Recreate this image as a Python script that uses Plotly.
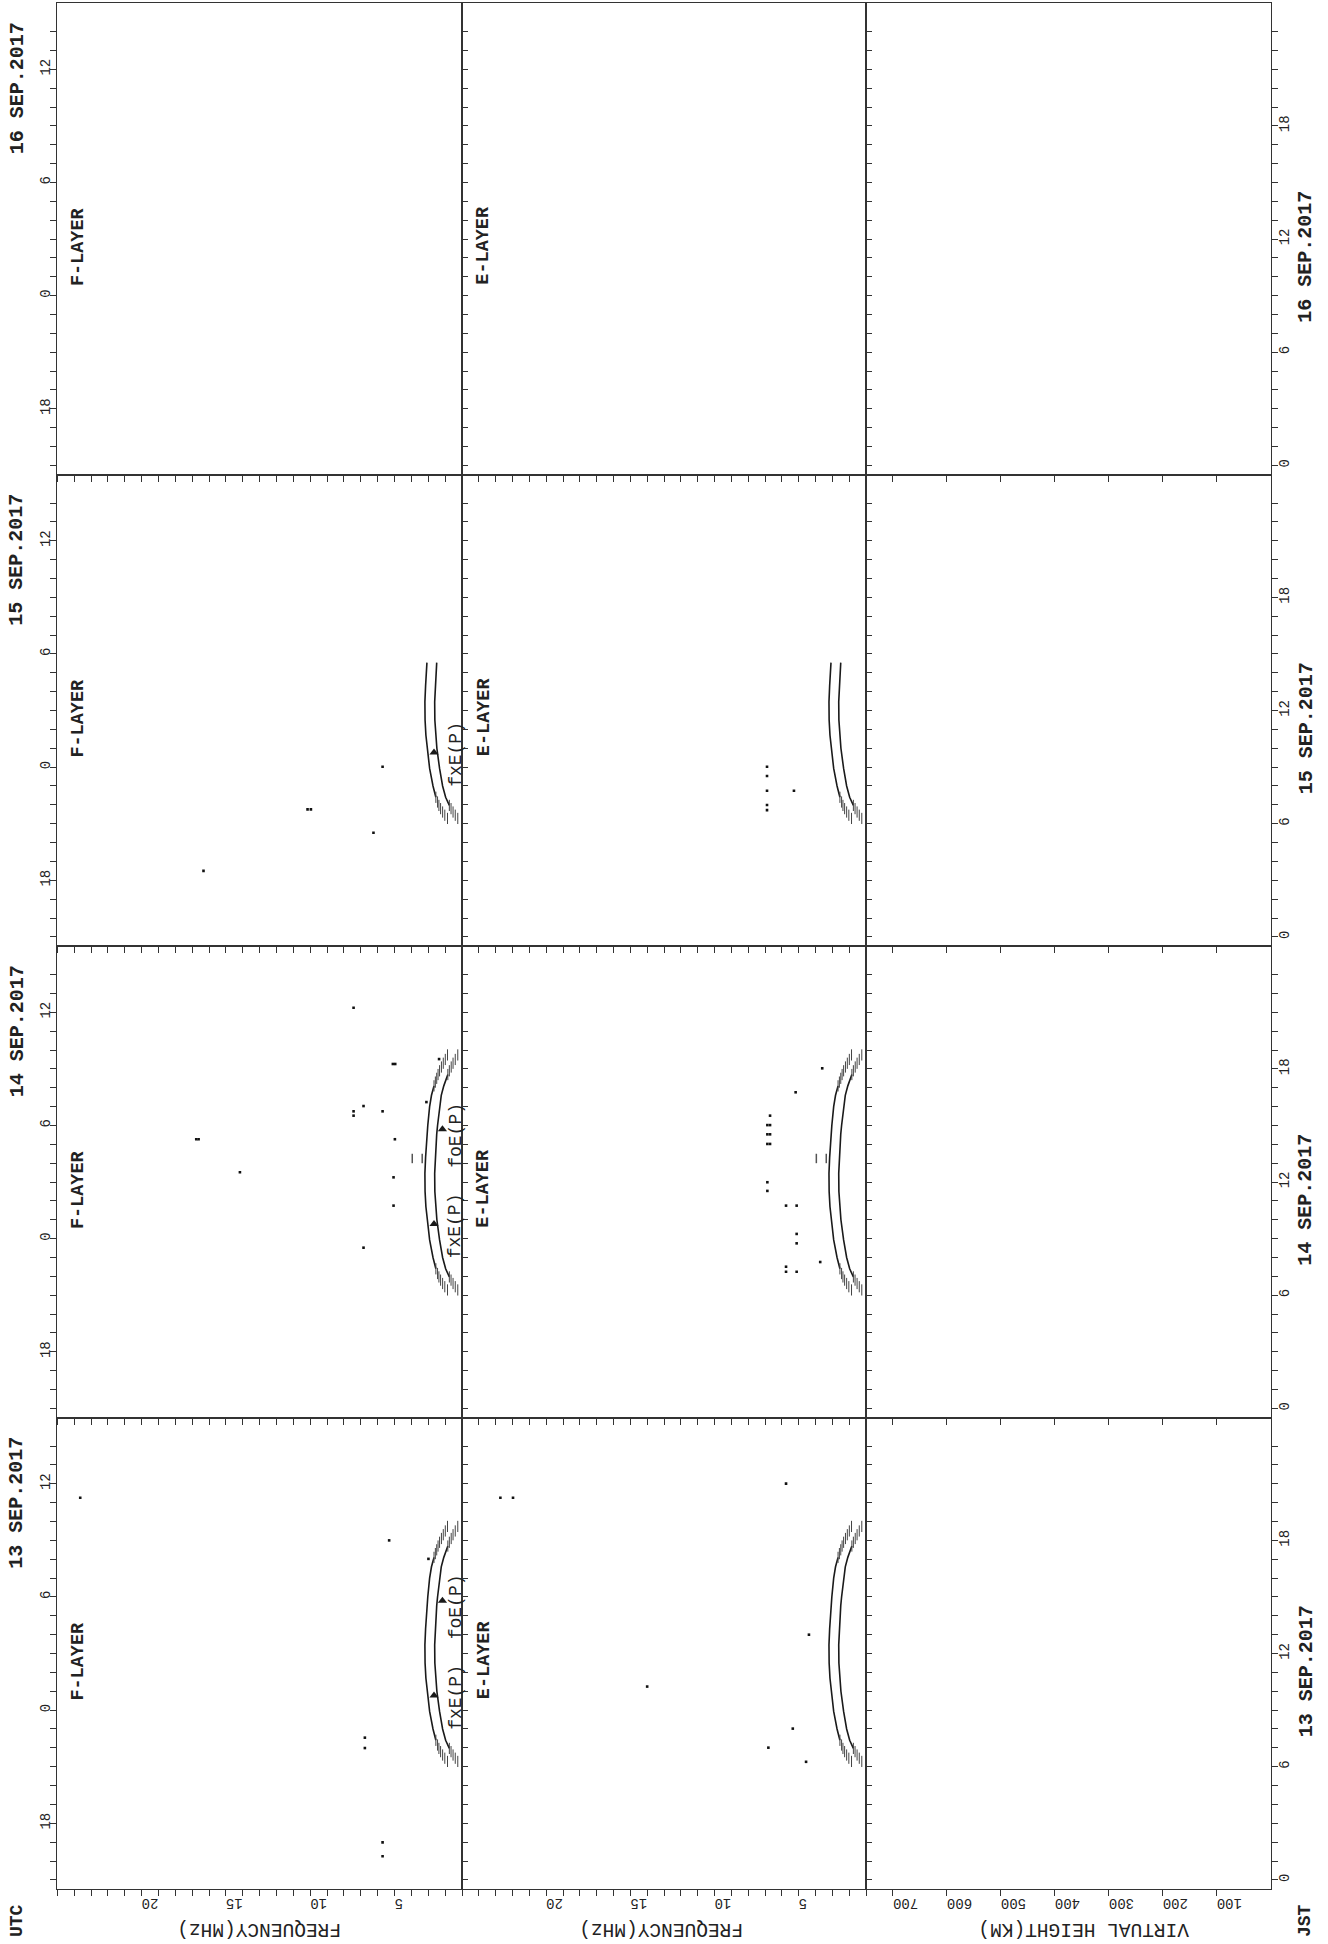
import plotly.graph_objects as go

# ---------------- page frame (pixels) ----------------
W, H = 1328, 1944
COL_EDGES = [57.3, 462.0, 866.0, 1270.7]     # F-layer | E-layer | virtual height
ROW_TOP, ROW_H = 3.3, 471.5                  # four day rows, top to bottom

# ---------------- axes ----------------
TIME_RANGE = [-0.5, 24.5]      # JST hours within each day row
FREQ_RANGE = [25, 1]           # MHz, high frequencies on the left
HEIGHT_RANGE = [750, 0]        # km

DAY_LABELS = ["16 SEP.2017", "15 SEP.2017", "14 SEP.2017", "13 SEP.2017"]
UTC_TICK_JST = [3, 9, 15, 21]
UTC_TICK_TEXT = ["18", "0", "6", "12"]
JST_TICK_VALS = [0, 6, 12, 18]
JST_TICK_TEXT = ["0", "6", "12", "18"]
FREQ_TICK_VALS = [5, 10, 15, 20]
FREQ_TICK_TEXT = ["5", "10", "15", "20"]
HEIGHT_TICK_VALS = [100, 200, 300, 400, 500, 600, 700]
HEIGHT_TICK_TEXT = ["100", "200", "300", "400", "500", "600", "700"]

# ---------------- predicted E-layer critical frequencies ----------------
ARC_T = [6.28, 6.45, 6.62, 6.8, 6.97, 7.15, 7.4, 8.0, 8.93, 10.0, 10.69, 11.5,
         12.46, 13.3, 14.23, 14.54, 15.0, 16.0, 16.6, 17.1, 17.3, 17.5, 17.7,
         17.9, 18.1, 18.3, 18.5, 18.74]
FXE_P = [1.86, 2.02, 2.15, 2.27, 2.37, 2.45, 2.55, 2.72, 2.92, 3.07, 3.14, 3.19,
         3.2, 3.16, 3.1, 3.08, 3.03, 2.92, 2.81, 2.66, 2.58, 2.5, 2.42,
         2.33, 2.22, 2.11, 1.99, 1.86]
FOE_P = [1.25, 1.4, 1.53, 1.65, 1.75, 1.84, 1.97, 2.15, 2.33, 2.49, 2.56, 2.61,
         2.62, 2.58, 2.52, 2.5, 2.45, 2.34, 2.23, 2.08, 2.0, 1.92, 1.84,
         1.75, 1.64, 1.53, 1.4, 1.25]
FXE_HATCH = (7.4, 17.1)      # solid between these hours, hatched outside
FOE_HATCH = (6.97, 17.7)
ARC_END = [None, 14.54, 18.74, 18.74]          # last predicted hour per row
FXE_MARK = (9.77, 2.66)                        # (JST, MHz)
FOE_MARK = (14.8, 2.16)

# ---------------- scaled observations (JST, MHz) ----------------
D13_F_T = [20.26, 18.0, 17.02, 7.54, 6.99, 1.99, 1.25]
D13_F_F = [23.64, 5.32, 2.99, 6.76, 6.76, 5.71, 5.71]
D13_E_T = [20.26, 20.26, 21.01, 13.0, 10.25, 8.02, 7.01, 6.26]
D13_E_F = [22.72, 21.97, 5.75, 4.39, 14.0, 5.35, 6.8, 4.56]

D14_F_T = [21.24, 18.26, 18.26, 18.52, 16.24, 16.03, 15.75, 15.52, 15.75,
           14.27, 14.27, 14.27, 12.52, 12.25, 10.75, 8.52]
D14_F_F = [7.43, 5.1, 4.96, 2.36, 3.11, 6.84, 7.43, 7.43, 5.71,
           16.62, 16.76, 4.98, 14.17, 5.06, 5.06, 6.84]
D14_E_T = [18.03, 16.76, 15.52, 15.02, 15.02, 14.53, 14.53, 14.02, 14.02,
           11.99, 11.53, 10.75, 10.75, 9.25, 8.75, 7.76, 7.51, 7.24, 7.24]
D14_E_F = [3.6, 5.18, 6.7, 6.86, 6.7, 6.86, 6.7, 6.86, 6.7,
           6.86, 6.86, 5.75, 5.12, 5.12, 5.12, 3.72, 5.75, 5.75, 5.12]
D14_BAR_F = [3.95, 3.36]
D14_BAR_T = (13.0, 13.5)

D15_F_T = [9.02, 6.76, 6.76, 5.52, 3.5]
D15_F_F = [5.71, 10.16, 9.96, 6.25, 16.33]
D15_E_T = [9.02, 8.53, 7.75, 7.75, 6.99, 6.72]
D15_E_F = [6.88, 6.88, 6.88, 5.28, 6.88, 6.88]

OBS_F = [([], []), (D15_F_T, D15_F_F), (D14_F_T, D14_F_F), (D13_F_T, D13_F_F)]
OBS_E = [([], []), (D15_E_T, D15_E_F), (D14_E_T, D14_E_F), (D13_E_T, D13_E_F)]

# ---------------- styles ----------------
FONT = "Liberation Mono, Courier New, DejaVu Sans Mono, monospace"
INK = "#222222"
FRAME = "#333333"


def idx(row, col):
    return row * 3 + col + 1


def tref(kind, i):
    return kind if i == 1 else f"{kind}{i}"


def lref(kind, i):
    return f"{kind}axis" if i == 1 else f"{kind}axis{i}"


def label(text, xref, yref, x, y, angle, size, bold=False):
    font = dict(family=FONT, size=size, color=INK)
    if bold:
        font["weight"] = "bold"
    return dict(text=text, xref=xref, yref=yref, x=x, y=y, textangle=angle,
                xanchor="center", yanchor="middle", showarrow=False, font=font)


fig = go.Figure()
layout = {}
annotations = []

for r in range(4):
    ytop = ROW_TOP + r * ROW_H
    ydom = [1 - (ytop + ROW_H) / H, 1 - ytop / H]
    for c in range(3):
        i = idx(r, c)
        xdom = [COL_EDGES[c] / W, COL_EDGES[c + 1] / W]
        bottom = (r == 3)
        if c < 2:
            xt_vals = list(range(1, 26))
            xt_text = [FREQ_TICK_TEXT[FREQ_TICK_VALS.index(v)] if v in FREQ_TICK_VALS else ""
                       for v in xt_vals]
            xr = FREQ_RANGE
        else:
            xt_vals = HEIGHT_TICK_VALS
            xt_text = HEIGHT_TICK_TEXT
            xr = HEIGHT_RANGE
        layout[lref("x", i)] = dict(
            domain=xdom, range=xr, anchor=tref("y", i),
            tickmode="array", tickvals=xt_vals, ticktext=xt_text,
            showticklabels=bottom, tickangle=180,
            ticks="outside", ticklen=6, tickwidth=1.2, tickcolor=FRAME,
            tickfont=dict(family=FONT, size=14, color=INK),
            showline=True, mirror=True, linecolor=FRAME, linewidth=1.3,
            showgrid=False, zeroline=False, fixedrange=True,
        )
        yt_vals = list(range(0, 24))
        if c == 0:
            yt_text = [UTC_TICK_TEXT[UTC_TICK_JST.index(v)] if v in UTC_TICK_JST else ""
                       for v in yt_vals]
        else:
            yt_text = ["" for _ in yt_vals]
        layout[lref("y", i)] = dict(
            domain=ydom, range=TIME_RANGE, anchor=tref("x", i),
            tickmode="array", tickvals=yt_vals, ticktext=yt_text,
            showticklabels=(c == 0), tickangle=-90, ticklabelstandoff=-5,
            ticks="outside" if c == 0 else "inside",
            ticklen=6, tickwidth=1.2, tickcolor=FRAME,
            tickfont=dict(family=FONT, size=14, color=INK),
            showline=True, mirror=True, linecolor=FRAME, linewidth=1.3,
            showgrid=False, zeroline=False, fixedrange=True,
        )

    # JST axis on the right-hand edge
    j = 13 + r
    vh = idx(r, 2)
    layout[lref("y", j)] = dict(
        range=TIME_RANGE, overlaying=tref("y", vh), anchor=tref("x", vh), side="right",
        tickmode="array", tickvals=list(range(0, 24)),
        ticktext=[JST_TICK_TEXT[JST_TICK_VALS.index(v)] if v in JST_TICK_VALS else ""
                  for v in range(0, 24)],
        tickangle=-90, ticklabelstandoff=-6,
        ticks="outside", ticklen=6, tickwidth=1.2, tickcolor=FRAME,
        tickfont=dict(family=FONT, size=14, color=INK),
        showline=False, showgrid=False, zeroline=False, fixedrange=True,
    )
    fig.add_trace(go.Scatter(x=[], y=[], xaxis=tref("x", vh), yaxis=tref("y", j),
                             showlegend=False, hoverinfo="skip"))

    # ---- day and layer labels ----
    fy = tref("y", idx(r, 0))
    annotations.append(label(DAY_LABELS[r], "paper", fy, 17 / W, 20.0, -90, 20, True))
    annotations.append(label(DAY_LABELS[r], "paper", tref("y", vh), 1306 / W, 11.06, -90, 20, True))
    annotations.append(label("F-LAYER", "paper", fy, 78.5 / W, 11.6, -90, 18.5, True))
    annotations.append(label("E-LAYER", "paper", tref("y", idx(r, 1)), 484 / W, 11.65, -90, 18.5, True))

    # ---- observations and predictions in the F and E panels ----
    for c, obs in ((0, OBS_F), (1, OBS_E)):
        i = idx(r, c)
        xa, ya = tref("x", i), tref("y", i)
        t_end = ARC_END[r]
        if t_end is not None:
            for vals, (h0, h1) in ((FXE_P, FXE_HATCH), (FOE_P, FOE_HATCH)):
                st = [t for t in ARC_T if h0 <= t <= min(h1, t_end)]
                sf = [f for t, f in zip(ARC_T, vals) if h0 <= t <= min(h1, t_end)]
                fig.add_trace(go.Scatter(
                    x=sf, y=st, mode="lines", line=dict(color="#1a1a1a", width=1.6),
                    xaxis=xa, yaxis=ya, showlegend=False, hoverinfo="skip"))
                ht = [t for t in ARC_T if (t <= h0 or t >= h1) and t <= t_end]
                hf = [f for t, f in zip(ARC_T, vals) if (t <= h0 or t >= h1) and t <= t_end]
                fig.add_trace(go.Scatter(
                    x=hf, y=ht, mode="markers",
                    marker=dict(symbol="line-ns", size=8,
                                line=dict(color="#444444", width=1.0)),
                    xaxis=xa, yaxis=ya, showlegend=False, hoverinfo="skip"))
            if c == 0:
                marks = [FXE_MARK] + ([FOE_MARK] if t_end >= FOE_MARK[0] else [])
                fig.add_trace(go.Scatter(
                    x=[m[1] for m in marks], y=[m[0] for m in marks], mode="markers",
                    marker=dict(symbol="triangle-up", size=8, color="#1a1a1a"),
                    xaxis=xa, yaxis=ya, showlegend=False, hoverinfo="skip"))
                annotations.append(label("fxE(P)", xa, ya, 1.36, 9.7, -90, 18))
                if t_end >= FOE_MARK[0]:
                    annotations.append(label("foE(P)", xa, ya, 1.36, 14.5, -90, 18))
        ot, of = obs[r]
        if ot:
            fig.add_trace(go.Scatter(
                x=of, y=ot, mode="markers",
                marker=dict(symbol="square", size=2.6, color="#111111", line=dict(width=0)),
                xaxis=xa, yaxis=ya, showlegend=False, hoverinfo="skip"))
        if r == 2:
            bx, by = [], []
            for f in D14_BAR_F:
                bx += [f, f, None]
                by += [D14_BAR_T[0], D14_BAR_T[1], None]
            fig.add_trace(go.Scatter(
                x=bx, y=by, mode="lines", line=dict(color="#555555", width=1.5),
                xaxis=xa, yaxis=ya, showlegend=False, hoverinfo="skip"))

# ---- corner and axis titles ----
annotations += [
    label("UTC", "paper", "paper", 17 / W, 1 - 1921 / H, -90, 18, True),
    label("JST", "paper", "paper", 1305 / W, 1 - 1921 / H, -90, 18, True),
    label("FREQUENCY(MHz)", "paper", "paper", 259 / W, 1 - 1929 / H, 180, 19.5),
    label("FREQUENCY(MHz)", "paper", "paper", 661 / W, 1 - 1929 / H, 180, 19.5),
    label("VIRTUAL HEIGHT(KM)", "paper", "paper", 1084 / W, 1 - 1929 / H, 180, 19.5),
]

fig.update_layout(
    width=W, height=H, margin=dict(l=0, r=0, t=0, b=0),
    paper_bgcolor="white", plot_bgcolor="white", showlegend=False,
    annotations=annotations, **layout,
)

fig.write_html("out.html")
